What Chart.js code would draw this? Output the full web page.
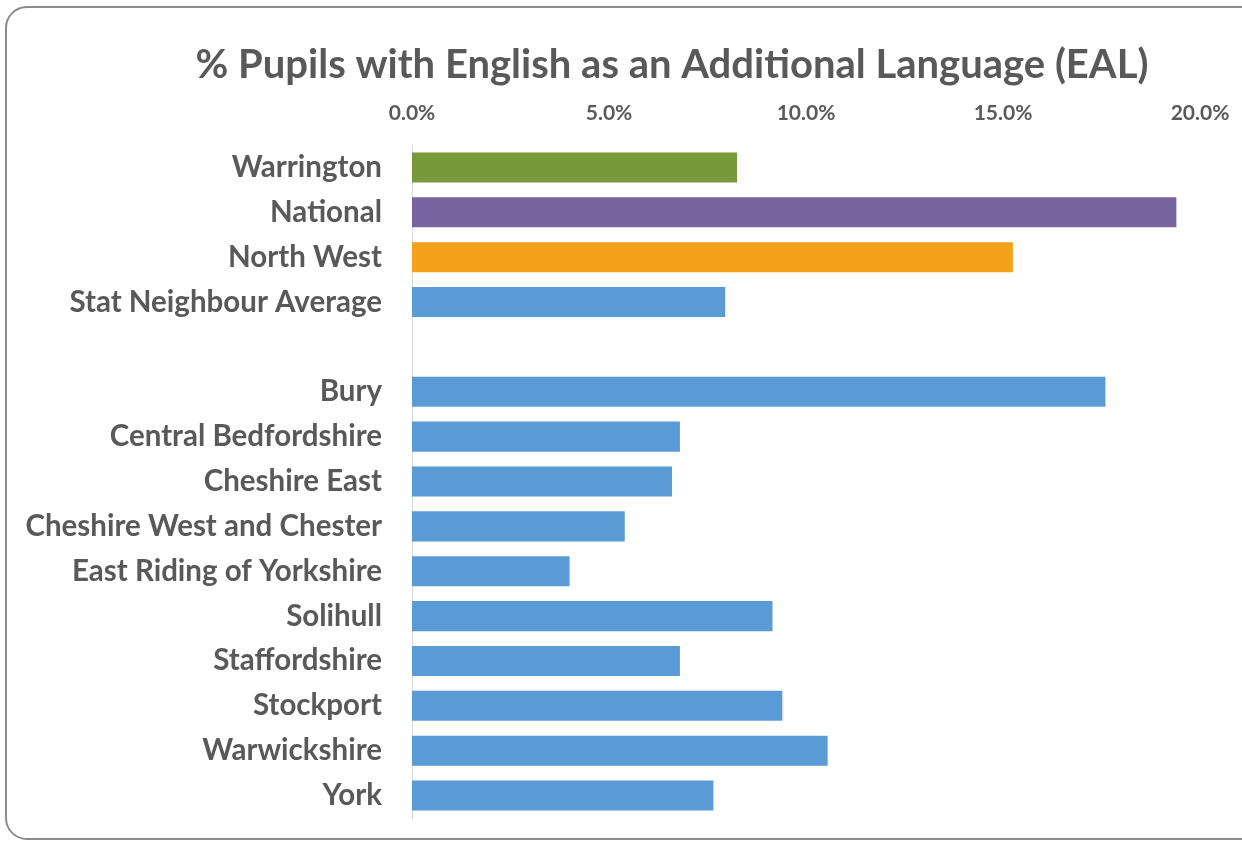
<!DOCTYPE html>
<html>
<head>
<meta charset="utf-8">
<script src="https://cdn.jsdelivr.net/npm/chart.js@4.4.0/dist/chart.umd.min.js"></script>
<style>
    html, body { margin: 0; padding: 0; background: #fff; overflow: hidden; }
    #frame {
        position: absolute; left: 5px; top: 6px; width: 1340px; height: 834px;
        border: 2px solid #8c8c8c; border-radius: 22px; box-sizing: border-box;
    }
    /* the original frame runs past the right edge, so the canvas does too */
    #wrap { position: absolute; left: 0; top: 0; width: 1344px; height: 842px; }
</style>
</head>
<body>
<div id="frame"></div>
<div id="wrap"><canvas id="eal-chart"></canvas></div>
<script>
// Areas, with an empty slot separating the comparators from the neighbours
const areas = [
    'Warrington', 'National', 'North West', 'Stat Neighbour Average', '',
    'Bury', 'Central Bedfordshire', 'Cheshire East', 'Cheshire West and Chester',
    'East Riding of Yorkshire', 'Solihull', 'Staffordshire', 'Stockport',
    'Warwickshire', 'York'
];
const ealPercent = [
    8.25, 19.4, 15.25, 7.95, null,
    17.6, 6.8, 6.6, 5.4, 4.0, 9.15, 6.8, 9.4, 10.55, 7.65
];
const barColours = [
    '#77993a', '#7763a0', '#f5a11a', '#5b9bd5', '#5b9bd5',
    '#5b9bd5', '#5b9bd5', '#5b9bd5', '#5b9bd5', '#5b9bd5',
    '#5b9bd5', '#5b9bd5', '#5b9bd5', '#5b9bd5', '#5b9bd5'
];
const axisMax = 20;
const axisStep = 5;

const textGrey = '#595959';
const fontFamily = 'Lato, "Open Sans", sans-serif';

const ctx = document.getElementById('eal-chart').getContext('2d');
new Chart(ctx, {
    type: 'bar',
    data: {
        labels: areas,
        datasets: [{
            data: ealPercent,
            backgroundColor: barColours,
            borderWidth: 0,
            categoryPercentage: 1,
            barPercentage: 0.67
        }]
    },
    options: {
        indexAxis: 'y',
        responsive: true,
        maintainAspectRatio: false,
        animation: false,
        layout: { padding: { top: 41, right: 0, left: 0, bottom: 24 } },
        scales: {
            x: {
                position: 'top',
                min: 0,
                max: axisMax,
                grid: { display: false, drawTicks: false },
                border: { display: false },
                ticks: {
                    stepSize: axisStep,
                    padding: 19,
                    color: textGrey,
                    font: { family: fontFamily, size: 21, weight: 'bold' },
                    callback: v => v.toFixed(1) + '%'
                },
                afterFit: scale => {
                    scale.height = 52;
                    scale.paddingLeft = 0;
                    scale.paddingRight = 144; // plot ends at x=1200
                }
            },
            y: {
                grid: { display: false, drawTicks: false },
                border: { display: true, color: '#d9d9d9', width: 1 },
                ticks: {
                    padding: 30,
                    color: textGrey,
                    font: { family: fontFamily, size: 29.5, weight: 'bold' }
                },
                afterFit: scale => {
                    scale.width = 412;
                    scale.paddingTop = 0;
                    scale.paddingBottom = 0;
                }
            }
        },
        plugins: {
            legend: { display: false },
            tooltip: { enabled: false },
            title: {
                display: true,
                text: '% Pupils with English as an Additional Language (EAL)',
                color: textGrey,
                font: { family: fontFamily, size: 40, weight: 'bold' },
                padding: { top: 0, bottom: 4 }
            }
        }
    }
});
</script>
</body>
</html>
